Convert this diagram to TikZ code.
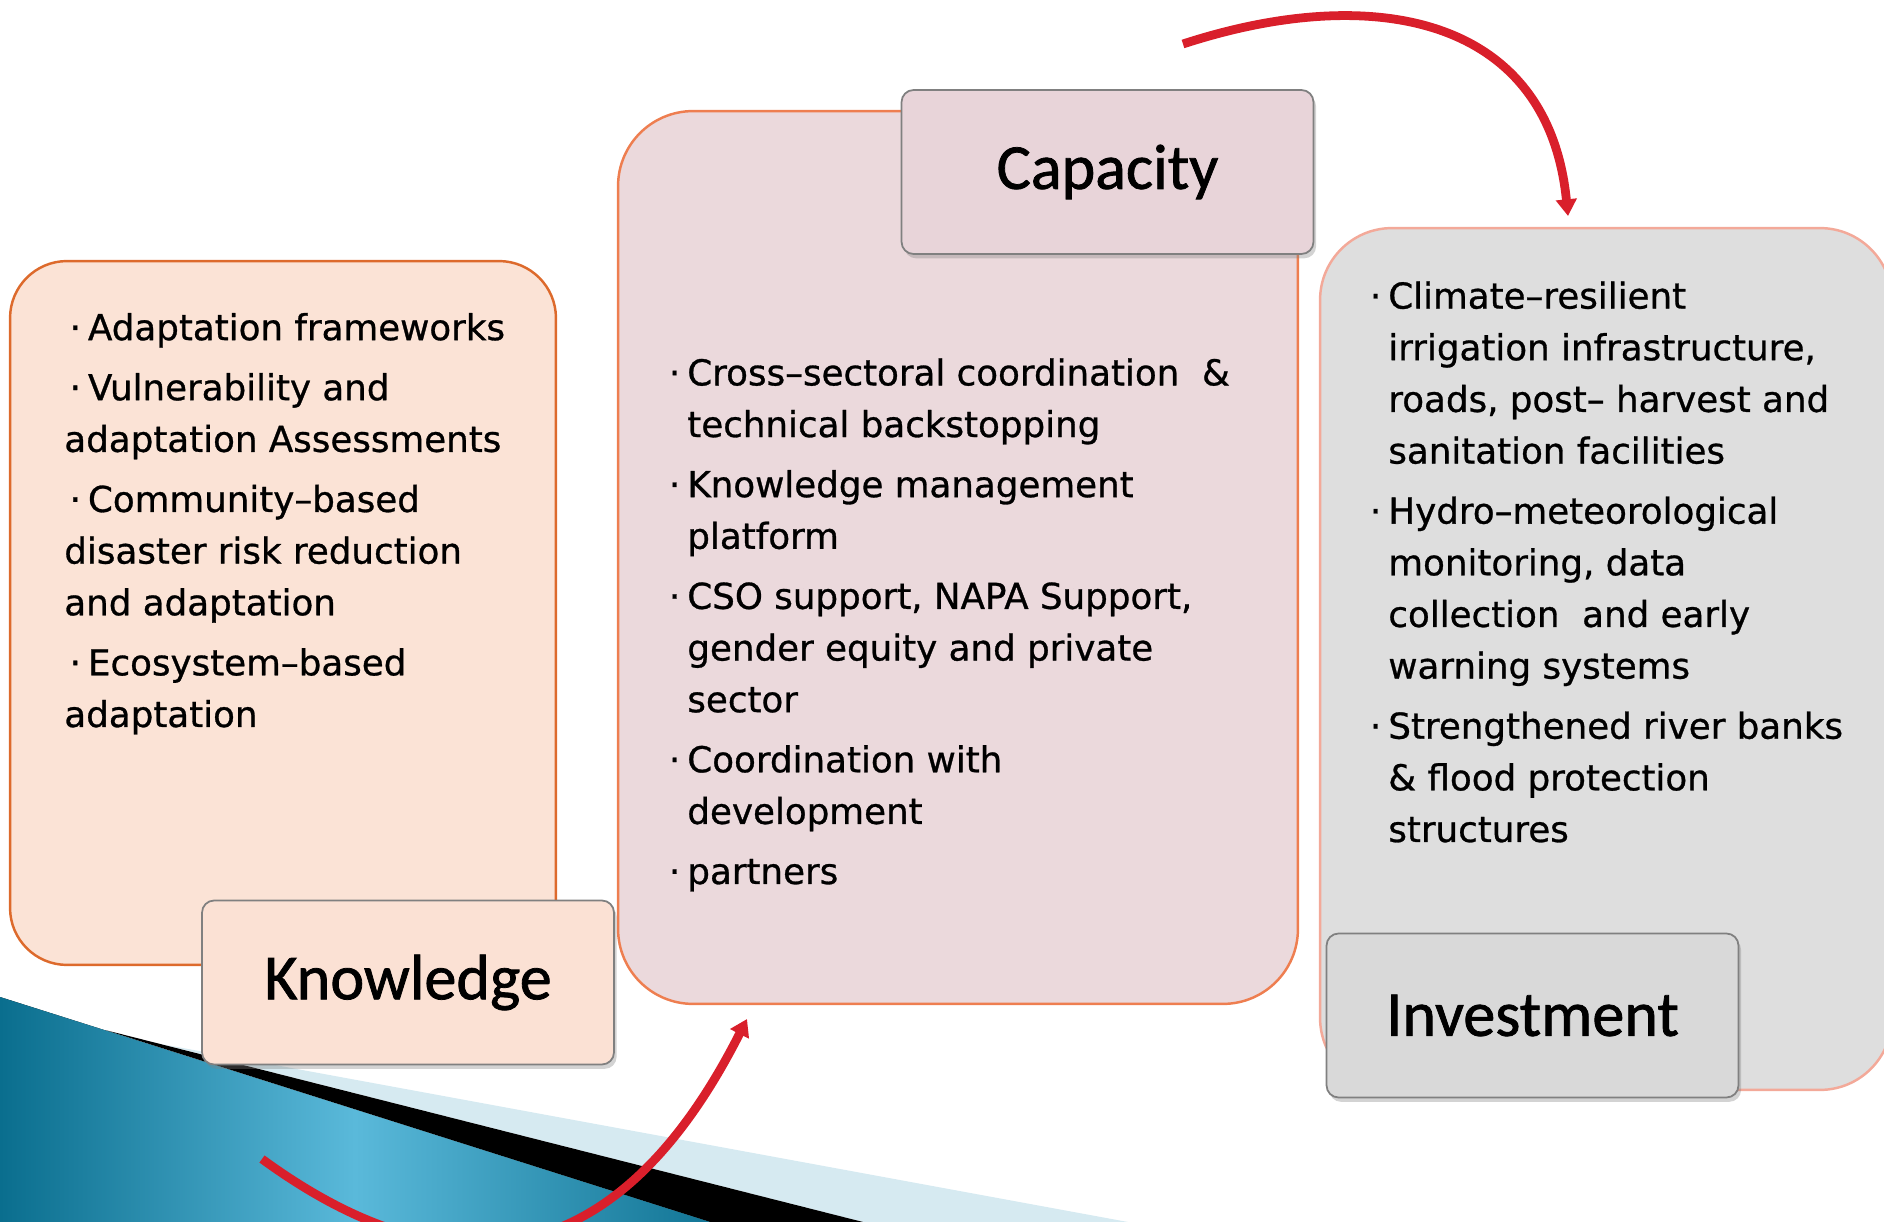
\documentclass[tikz,border=0pt]{standalone}
\usepackage{fontspec}
\setmainfont[FakeBold=0.8]{DejaVu Sans}
\newfontfamily\titlefont[FakeBold=1.2]{Carlito}
\usetikzlibrary{arrows.meta,shadows}

\definecolor{knowfill}{HTML}{FBE3D6}
\definecolor{knowline}{HTML}{DD6A2C}
\definecolor{knowlblfill}{HTML}{FBE1D4}
\definecolor{capfill}{HTML}{EBD9DC}
\definecolor{capline}{HTML}{EE7E50}
\definecolor{caplblfill}{HTML}{E8D4D9}
\definecolor{invfill}{HTML}{DEDEDE}
\definecolor{invline}{HTML}{F3A999}
\definecolor{invlblfill}{HTML}{D9D9D9}
\definecolor{arrowred}{HTML}{D91F2B}
\definecolor{tealdark}{HTML}{0A6E8E}
\definecolor{teallight}{HTML}{5AB9DA}
\definecolor{palecyan}{HTML}{D6EAF1}

\newcommand{\bul}{\llap{·\hspace{4pt}}}

\begin{document}
\begin{tikzpicture}[x=0.02cm,y=-0.02cm,
    bigbox/.style={draw,line width=1.4pt,rectangle},
    lblbox/.style={draw=black!50,line width=1pt,rounded corners=0.24cm,
      minimum width=8.24cm,minimum height=3.28cm,
      drop shadow={shadow xshift=1.5pt,shadow yshift=-2.5pt,opacity=0.35},
      font=\titlefont\fontsize{36.5}{40}\selectfont},
    bodytxt/.style={anchor=base west,align=left,inner sep=0pt,
      font=\fontsize{20.3}{29.4}\selectfont},
    flow/.style={arrowred,line width=5pt,-{Triangle[width=11.5pt,length=9.5pt]}}]

      \useasboundingbox (0,0) rectangle (1884,1222);

      \fill[palecyan] (161,1044) -- (1128,1222) -- (863,1222) -- cycle;
      \fill[black] (105,1030) -- (863,1222) -- (710,1222) -- cycle;
      \fill[left color=tealdark,right color=tealdark!90!teallight,middle color=teallight]
        (0,997) -- (710,1222) -- (0,1222) -- cycle;

      \begin{scope}[every node/.style={bigbox}]
        \node[fill=knowfill,draw=knowline,rounded corners=1.14cm,
          minimum width=10.92cm,minimum height=14.08cm] (know) at (283,613) {};
        \node[fill=capfill,draw=capline,rounded corners=1.5cm,
          minimum width=13.6cm,minimum height=17.86cm] (cap) at (958,557.5) {};
        \node[fill=invfill,draw=invline,rounded corners=1.44cm,
          minimum width=11.44cm,minimum height=17.24cm] (inv) at (1606,659) {};
      \end{scope}

      \node[lblbox,fill=knowlblfill] (knowlbl) at (408,982.5) {Knowledge};
      \node[lblbox,fill=caplblfill]  (caplbl)  at (1107.5,172) {Capacity};
      \node[lblbox,fill=invlblfill]  (invlbl)  at (1532.5,1015.5) {Investment};

      \node[bodytxt] (knowtxt) at (64,727) {%
        \hspace*{3pt}·\hspace{4pt}Adaptation frameworks\\[4.8pt]
        \hspace*{3pt}·\hspace{4pt}Vulnerability and\\
        adaptation Assessments\\[4.8pt]
        \hspace*{3pt}·\hspace{4pt}Community–based\\
        disaster risk reduction\\
        and adaptation\\[4.8pt]
        \hspace*{3pt}·\hspace{4pt}Ecosystem–based\\
        adaptation};

      \node[bodytxt] (captxt) at (687,884) {%
        \bul Cross–sectoral coordination\ \ \&\\
        technical backstopping\\[4.8pt]
        \bul Knowledge management\\
        platform\\[4.8pt]
        \bul CSO support, NAPA Support,\\
        gender equity and private\\
        sector\\[4.8pt]
        \bul Coordination with\\
        development\\[4.8pt]
        \bul partners};

      \node[bodytxt] (invtxt) at (1388,842) {%
        \bul Climate–resilient\\
        irrigation infrastructure,\\
        roads, post– harvest and\\
        sanitation facilities\\[4.8pt]
        \bul Hydro–meteorological\\
        monitoring, data\\
        collection\ \ and early\\
        warning systems\\[4.8pt]
        \bul Strengthened river banks\\
        \& flood protection\\
        structures};

      \coordinate (kstart) at (262,1159);
      \coordinate (ktip) at (747,1019);
      \coordinate (cstart) at (1183,44);
      \coordinate (ctip) at (1568,216);

      \draw[flow] (kstart) .. controls (440,1289) and (612,1286) .. (ktip);
      \draw[flow] (cstart) .. controls (1373,-18) and (1548,16) .. (ctip);

    \end{tikzpicture}
\end{document}
